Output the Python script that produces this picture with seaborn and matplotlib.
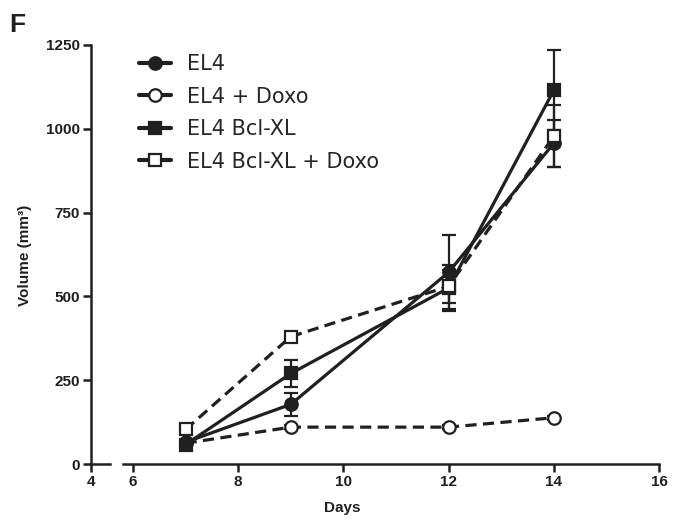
import numpy as np
import pandas as pd
import matplotlib
matplotlib.use("Agg")
import matplotlib.pyplot as plt
from matplotlib.lines import Line2D
import seaborn as sns

# Tumour volume per day
days = [7, 9, 12, 14]
groups = ["EL4", "EL4 + Doxo", "EL4 Bcl-XL", "EL4 Bcl-XL + Doxo"]
el4 = [65, 178, 572, 957]
el4_err = [8, 35, 110, 70]
el4_doxo = [62, 110, 110, 138]
el4_doxo_err = [5, 6, 6, 6]
bcl = [58, 270, 525, 1115]
bcl_err = [8, 40, 70, 120]
bcl_doxo = [103, 380, 530, 978]
bcl_doxo_err = [6, 10, 50, 92]

values = [el4, el4_doxo, bcl, bcl_doxo]
errors = [el4_err, el4_doxo_err, bcl_err, bcl_doxo_err]

df = pd.DataFrame({
    "Days": days * 4,
    "Volume": sum(values, []),
    "err": sum(errors, []),
    "Group": [g for g in groups for _ in days],
})

sns.set_style("ticks")
plt.rcParams["font.family"] = ["Liberation Sans", "DejaVu Sans"]

ink = "#202020"
markers = {"EL4": "o", "EL4 + Doxo": "o", "EL4 Bcl-XL": "s", "EL4 Bcl-XL + Doxo": "s"}
faces = {"EL4": ink, "EL4 + Doxo": "white", "EL4 Bcl-XL": ink, "EL4 Bcl-XL + Doxo": "white"}
dashed = {"EL4": False, "EL4 + Doxo": True, "EL4 Bcl-XL": False, "EL4 Bcl-XL + Doxo": True}

fig = plt.figure(figsize=(6.74, 5.19), dpi=100)
ax0 = fig.add_axes([91 / 674, 55 / 519, 19 / 674, 419 / 519])
ax = fig.add_axes([123 / 674, 55 / 519, 536 / 674, 419 / 519], sharey=ax0)

# error bars first, markers on top
for g in groups:
    sub = df[df["Group"] == g]
    ax.errorbar(sub["Days"], sub["Volume"], yerr=sub["err"], fmt="none",
                ecolor=ink, elinewidth=1.6, capsize=5, capthick=1.6, zorder=2)

for g in groups:
    sub = df[df["Group"] == g]
    sns.lineplot(data=sub, x="Days", y="Volume", ax=ax, color=ink,
                 linewidth=2.3, marker=markers[g], markersize=9,
                 markerfacecolor=faces[g], markeredgecolor=ink,
                 markeredgewidth=1.6, zorder=3,
                 linestyle=(0, (3.5, 2)) if dashed[g] else "-")

ax.set_xlim(6 - 10 / 52.5, 16)
ax.set_ylim(0, 1250)
ax0.set_xlim(4, 4.36)
ax0.set_xticks([4])
ax.set_xticks([6, 8, 10, 12, 14, 16])
ax0.set_yticks([0, 250, 500, 750, 1000, 1250])

for a in (ax0, ax):
    for s in ("top", "right"):
        a.spines[s].set_visible(False)
    for s in ("left", "bottom"):
        a.spines[s].set_linewidth(1.8)
        a.spines[s].set_color(ink)
    a.tick_params(direction="out", length=6, width=1.8, color=ink,
                  labelsize=11, labelcolor=ink, pad=2)
    for lbl in a.get_xticklabels() + a.get_yticklabels():
        lbl.set_fontweight("bold")
    a.set_xlabel("")
    a.set_ylabel("")

ax.spines["left"].set_visible(False)
ax.tick_params(axis="y", left=False, labelleft=False)
ax.set_facecolor("none")
ax0.set_facecolor("none")

fig.text(25 / 674, 1 - 255 / 519, "Volume (mm³)", rotation=90, ha="center",
         va="center", fontsize=11, fontweight="bold", color=ink)
fig.text(342 / 674, 1 - 508 / 519, "Days", ha="center", va="center",
         fontsize=11, fontweight="bold", color=ink)
fig.text(9 / 674, 1 - 25 / 519, "F", ha="left", va="center",
         fontsize=19, fontweight="bold", color=ink)

handles = [Line2D([], [], color=ink, linewidth=3, marker=markers[g],
                  markersize=9, markerfacecolor=faces[g],
                  markeredgecolor=ink, markeredgewidth=1.6) for g in groups]
fig.legend(handles, groups, loc="upper left",
           bbox_to_anchor=(139 / 674, 1 - 54 / 519),
           bbox_transform=fig.transFigure, frameon=False,
           prop={"family": "DejaVu Sans", "size": 15},
           handlelength=1.55, handletextpad=0.75, labelspacing=0.6,
           borderpad=0, borderaxespad=0)

fig.savefig("out.png", dpi=100)
